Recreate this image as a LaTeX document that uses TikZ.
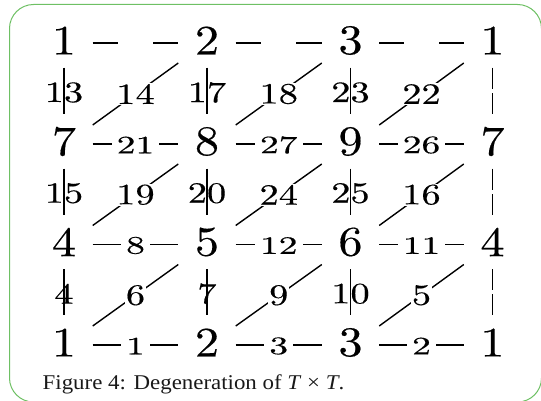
\documentclass[tikz,border=0pt]{standalone}
\usepackage{fontspec}
\newfontfamily\capfont{Liberation Serif}
\newfontfamily\dfont[FakeBold=0.35]{lmroman10-regular.otf}
\newfontfamily\lfont[FakeBold=0.35]{lmroman10-regular.otf}
\definecolor{framegreen}{RGB}{110,192,100}
\definecolor{captext}{RGB}{25,25,25}
\newcommand\bx[1]{\scalebox{1.15}[1]{#1}}
\newcommand\sx[1]{\scalebox{1.3}[1]{#1}}
\newcommand\hx[1]{\scalebox{1.5}[1]{#1}}
\tikzset{
  big/.style={minimum width=57pt, minimum height=54pt, inner sep=0pt, font=\dfont\fontsize{42}{42}\selectfont},
  edge/.style={line width=1.4pt, line cap=butt},
  hlab/.style={fill=white, inner xsep=5pt, inner ysep=1pt, yshift=-1pt, font=\lfont\fontsize{25}{25}\selectfont},
  hempty/.style={fill=white, inner sep=0pt, minimum width=35pt, minimum height=6pt},
  vlab/.style={inner sep=0pt, yshift=-1.5pt, font=\lfont\fontsize{29.5}{29.5}\selectfont},
  vempty/.style={fill=white, inner sep=0pt, minimum width=5pt, minimum height=4pt},
  dlab/.style={fill=white, inner sep=1pt, font=\lfont\fontsize{29.5}{29.5}\selectfont},
}
\begin{document}
\begin{tikzpicture}[x=1pt, y=-1pt]
\useasboundingbox (0,0) rectangle (541,401);
\clip (0,0) rectangle (541,401);
\draw[framegreen, line width=1pt, rounded corners=24pt] (9.5,4.5) rectangle (541.5,402);
% big numbers
\node[big] (n11) at (64,40.5) {\bx{1}};
\node[big] (n12) at (207,40.5) {\bx{2}};
\node[big] (n13) at (350.5,40.5) {\bx{3}};
\node[big] (n14) at (492.5,40.5) {\bx{1}};
\node[big] (n21) at (64,141.5) {\bx{7}};
\node[big] (n22) at (207,141.5) {\bx{8}};
\node[big] (n23) at (350.5,141.5) {\bx{9}};
\node[big] (n24) at (492.5,141.5) {\bx{7}};
\node[big] (n31) at (64,242) {\bx{4}};
\node[big] (n32) at (207,242) {\bx{5}};
\node[big] (n33) at (350.5,242) {\bx{6}};
\node[big] (n34) at (492.5,242) {\bx{4}};
\node[big] (n41) at (64,342.5) {\bx{1}};
\node[big] (n42) at (207,342.5) {\bx{2}};
\node[big] (n43) at (350.5,342.5) {\bx{3}};
\node[big] (n44) at (492.5,342.5) {\bx{1}};
% horizontal edges
\draw[edge] ([yshift=-2.5pt]n11.east) -- node[hempty] (h11) {} ([yshift=-2.5pt]n12.west);
\draw[edge] ([yshift=-2.5pt]n12.east) -- node[hempty] (h12) {} ([yshift=-2.5pt]n13.west);
\draw[edge] ([yshift=-2.5pt]n13.east) -- node[hempty] (h13) {} ([yshift=-2.5pt]n14.west);
\draw[edge] ([yshift=-2.5pt]n21.east) -- node[hlab] (h21) {\hx{21}} ([yshift=-2.5pt]n22.west);
\draw[edge] ([yshift=-2.5pt]n22.east) -- node[hlab] (h22) {\hx{27}} ([yshift=-2.5pt]n23.west);
\draw[edge] ([yshift=-2.5pt]n23.east) -- node[hlab] (h23) {\hx{26}} ([yshift=-2.5pt]n24.west);
\draw[edge] ([yshift=-2.5pt]n31.east) -- node[hlab] (h31) {\hx{8}} ([yshift=-2.5pt]n32.west);
\draw[edge] ([yshift=-2.5pt]n32.east) -- node[hlab] (h32) {\hx{12}} ([yshift=-2.5pt]n33.west);
\draw[edge] ([yshift=-2.5pt]n33.east) -- node[hlab] (h33) {\hx{11}} ([yshift=-2.5pt]n34.west);
\draw[edge] ([yshift=-2.5pt]n41.east) -- node[hlab] (h41) {\hx{1}} ([yshift=-2.5pt]n42.west);
\draw[edge] ([yshift=-2.5pt]n42.east) -- node[hlab] (h42) {\hx{3}} ([yshift=-2.5pt]n43.west);
\draw[edge] ([yshift=-2.5pt]n43.east) -- node[hlab] (h43) {\hx{2}} ([yshift=-2.5pt]n44.west);
% vertical edges
\draw[edge] (n11.south) -- node[vlab] (v11) {\sx{13}} (n21.north);
\draw[edge] (n12.south) -- node[vlab] (v12) {\sx{17}} (n22.north);
\draw[edge] (n13.south) -- node[vlab] (v13) {\sx{23}} (n23.north);
\draw[edge] (n14.south) -- node[vempty] (v14) {} (n24.north);
\draw[edge] (n21.south) -- node[vlab] (v21) {\sx{15}} (n31.north);
\draw[edge] (n22.south) -- node[vlab] (v22) {\sx{20}} (n32.north);
\draw[edge] (n23.south) -- node[vlab] (v23) {\sx{25}} (n33.north);
\draw[edge] (n24.south) -- node[vempty] (v24) {} (n34.north);
\draw[edge] (n31.south) -- node[vlab] (v31) {\sx{4}} (n41.north);
\draw[edge] (n32.south) -- node[vlab] (v32) {\sx{7}} (n42.north);
\draw[edge] (n33.south) -- node[vlab] (v33) {\sx{10}} (n43.north);
\draw[edge] (n34.south) -- node[vempty] (v34) {} (n44.north);
% diagonal edges
\draw[edge] ([yshift=16.5pt]n21.east) -- node[dlab] (d11) {\sx{14}} ([yshift=-22.5pt]n12.west);
\draw[edge] ([yshift=16.5pt]n22.east) -- node[dlab] (d12) {\sx{18}} ([yshift=-22.5pt]n13.west);
\draw[edge] ([yshift=16.5pt]n23.east) -- node[dlab] (d13) {\sx{22}} ([yshift=-22.5pt]n14.west);
\draw[edge] ([yshift=16.5pt]n31.east) -- node[dlab] (d21) {\sx{19}} ([yshift=-22.5pt]n22.west);
\draw[edge] ([yshift=16.5pt]n32.east) -- node[dlab] (d22) {\sx{24}} ([yshift=-22.5pt]n23.west);
\draw[edge] ([yshift=16.5pt]n33.east) -- node[dlab] (d23) {\sx{16}} ([yshift=-22.5pt]n24.west);
\draw[edge] ([yshift=16.5pt]n41.east) -- node[dlab] (d31) {\sx{6}} ([yshift=-22.5pt]n32.west);
\draw[edge] ([yshift=16.5pt]n42.east) -- node[dlab] (d32) {\sx{9}} ([yshift=-22.5pt]n33.west);
\draw[edge] ([yshift=16.5pt]n43.east) -- node[dlab] (d33) {\sx{5}} ([yshift=-22.5pt]n34.west);
% caption
\node[anchor=base west, inner sep=0pt, text=captext, font=\capfont\fontsize{21}{21}\selectfont] (cap) at (42.5,389) {\scalebox{1.09}[1]{Figure 4: Degeneration of \textit{T} × \textit{T}.}};
\end{tikzpicture}
\end{document}
